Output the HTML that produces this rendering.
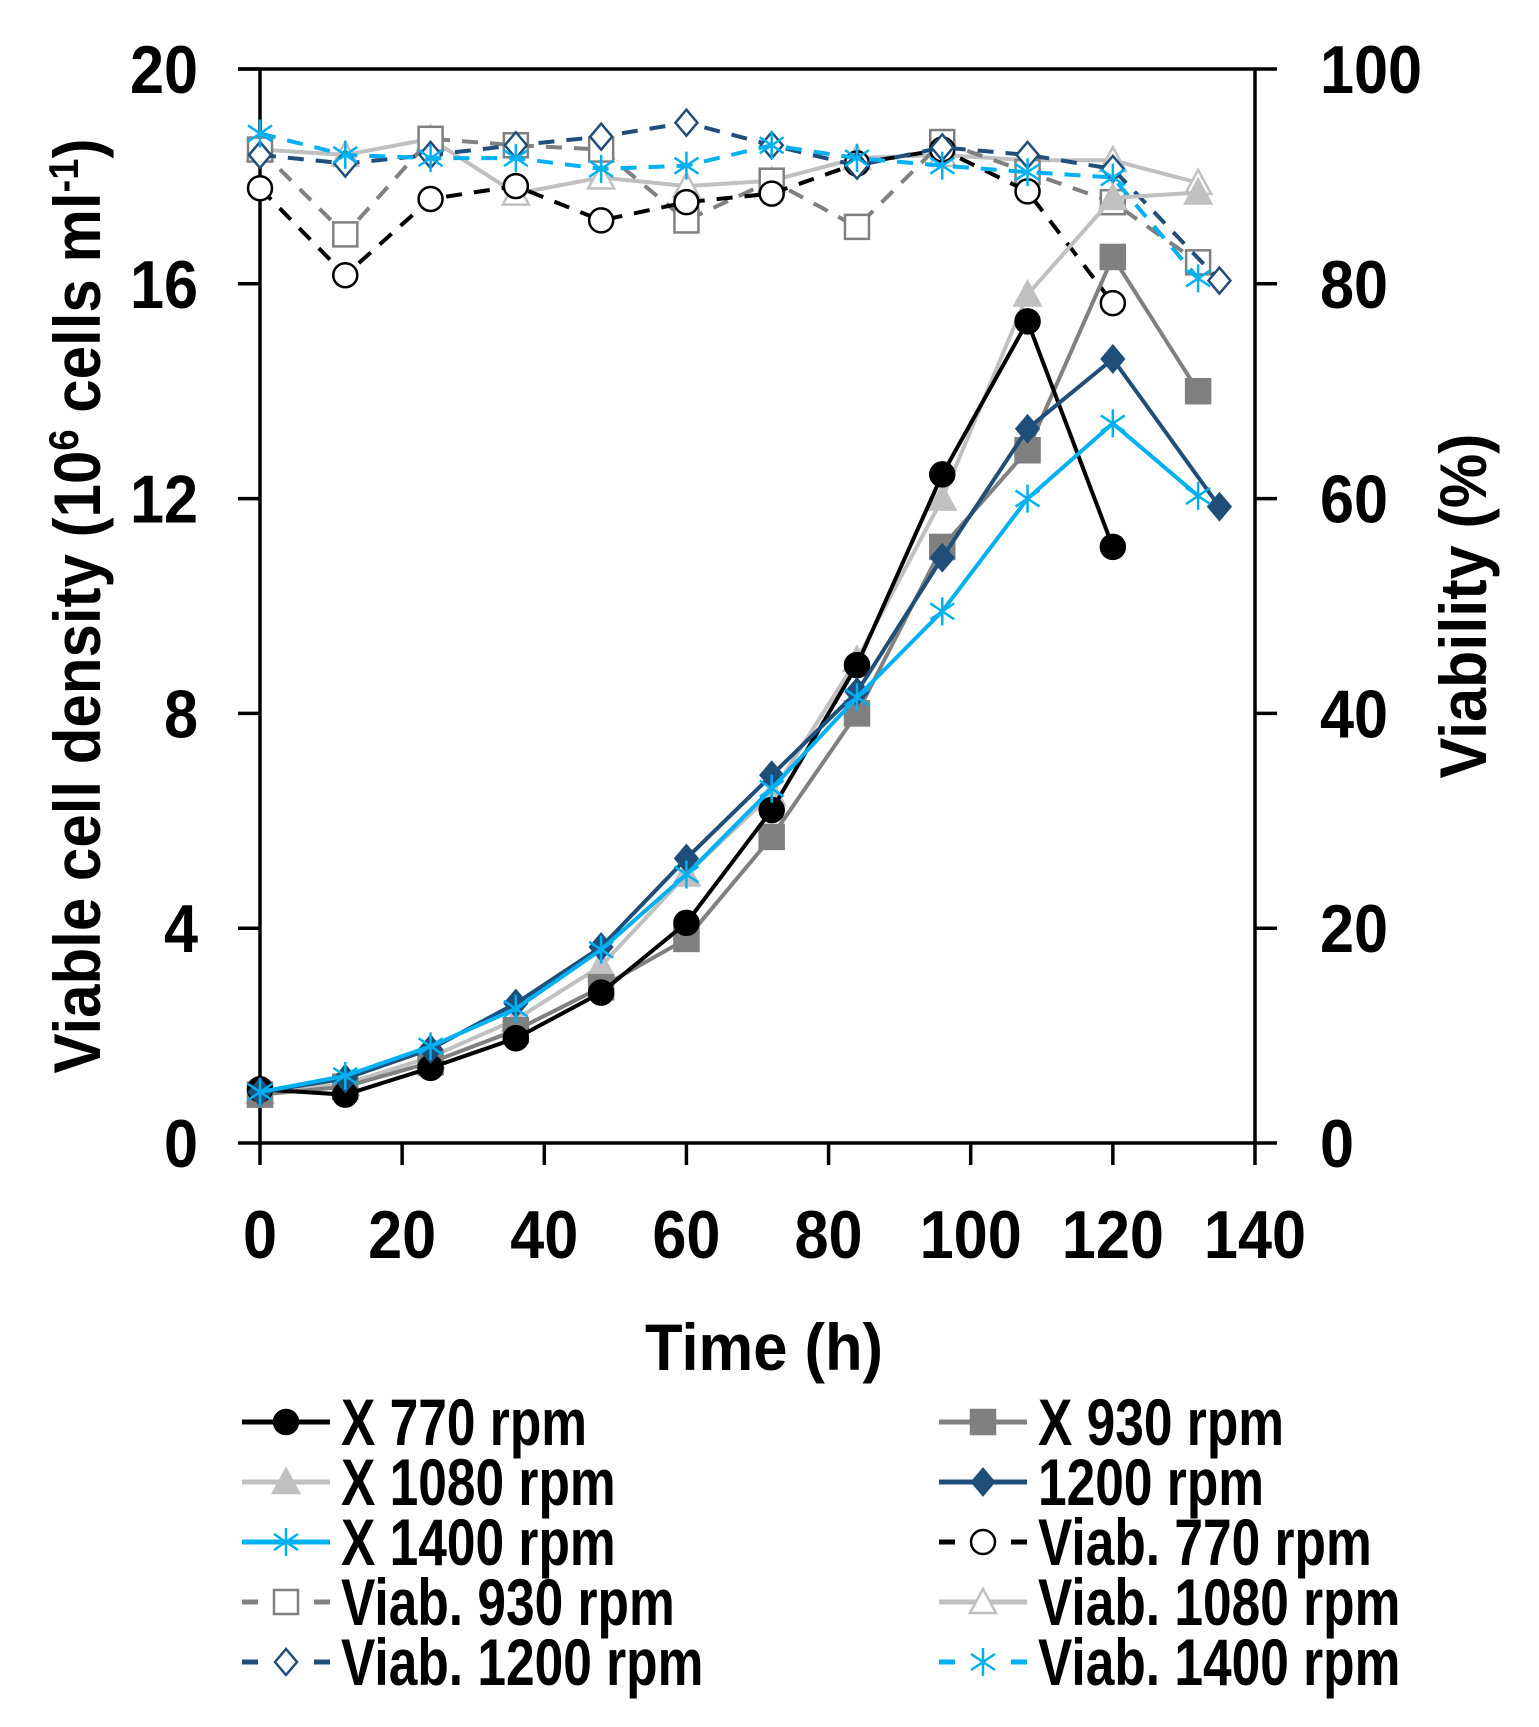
<!DOCTYPE html>
<html><head><meta charset="utf-8"><style>
html,body{margin:0;padding:0;background:#fff}
svg text{font-family:"Liberation Sans",sans-serif;font-weight:bold;fill:#000}
</style></head><body>
<svg id="s" xmlns="http://www.w3.org/2000/svg" width="1539" height="1722" viewBox="0 0 1539 1722"></svg>
<script>
const s=document.getElementById('s');let h='';
const X=t=>260+t*7.107, YL=v=>1143-v*53.7, YR=p=>1143-p*10.74;
h+=`<g stroke="#000" stroke-width="3.5" fill="none"><path d="M238 69H1255M260 69V1143H1255V69"/>`;
for(let i=0;i<=5;i++){let y=1143-i*214.8;h+=`<path d="M238 ${y}H260M1255 ${y}H1277"/>`;}
for(let i=0;i<=7;i++){let x=260+i*142.14;h+=`<path d="M${x} 1143V1165"/>`;}
h+=`</g>`;
function T_(x,y,str,fs,sx,anchor){return `<g transform="translate(${x},${y}) scale(${sx},1)"><text x="0" y="0" font-size="${fs}" text-anchor="${anchor||'start'}">${str}</text></g>`;}
for(let i=0;i<=5;i++){let y=1143-i*214.8;h+=T_(198,y+24,i*4,68,0.9,'end')+T_(1320,y+24,i*20,68,0.9);}
for(let i=0;i<=7;i++){let x=260+i*142.14;h+=T_(x,1258,i*20,68,0.9,'middle');}
h+=`<text transform="translate(100,606) rotate(-90)" font-size="66" text-anchor="middle" textLength="935" lengthAdjust="spacingAndGlyphs">Viable cell density (10<tspan dy="-22" font-size="42">6</tspan><tspan dy="22"> cells ml</tspan><tspan dy="-22" font-size="42">-1</tspan><tspan dy="22">)</tspan></text>`;
h+=`<text transform="translate(1486,606) rotate(-90)" font-size="66" text-anchor="middle" textLength="345" lengthAdjust="spacingAndGlyphs">Viability (%)</text>`;
h+=`<text x="764" y="1370" font-size="66" text-anchor="middle" textLength="238" lengthAdjust="spacingAndGlyphs">Time (h)</text>`;
const T=[0,12,24,36,48,60,72,84,96,108,120,132];
const T2=[0,12,24,36,48,60,72,84,96,108,120,135];
function mk(type,x,y,c,fill){
 const sw=2.5;
 if(type=='c')return `<circle cx="${x}" cy="${y}" r="12" fill="${fill?c:'#fff'}" stroke="${c}" stroke-width="${sw}"/>`;
 if(type=='s')return `<rect x="${x-12}" y="${y-12}" width="24" height="24" fill="${fill?c:'#fff'}" stroke="${c}" stroke-width="${sw}"/>`;
 if(type=='t')return `<path d="M${x} ${y-13}L${x+13} ${y+11}H${x-13}Z" fill="${fill?c:'#fff'}" stroke="${c}" stroke-width="${sw}"/>`;
 if(type=='d')return `<path d="M${x} ${y-13}L${x+11} ${y}L${x} ${y+13}L${x-11} ${y}Z" fill="${fill?c:'#fff'}" stroke="${c}" stroke-width="${sw}"/>`;
 if(type=='a')return `<path d="M${x} ${y-14}V${y+14}M${x-12} ${y-8}L${x+12} ${y+8}M${x-12} ${y+8}L${x+12} ${y-8}" stroke="${c}" stroke-width="2.5"/>`;
}
function series(ts,vs,f,c,type,fill,dash){
 let p=ts.slice(0,vs.length).map((t,i)=>`${X(t)},${f(vs[i])}`).join(' ');
 h+=`<polyline points="${p}" fill="none" stroke="${c}" stroke-width="4" ${dash?'stroke-dasharray="16,12"':''}/>`;
 vs.forEach((v,i)=>h+=mk(type,X(ts[i]),f(v),c,fill));
}
series(T,[92.5,92.0,93.5,88.4,89.9,89.1,89.6,91.7,92.0,91.5,91.5,89.4],YR,'#c0c0c0','t',false,false);
series(T,[92.5,84.6,93.5,92.9,92.5,85.9,89.6,85.3,93.2,90.4,87.6,82.0],YR,'#808080','s',false,true);
series(T,[88.9,80.8,87.9,89.1,85.9,87.6,88.4,91.2,92.5,88.6,78.2],YR,'#000','c',false,true);
series(T2,[92.0,91.2,92.0,92.9,93.7,95.0,92.9,91.0,92.7,92.0,90.7,80.3],YR,'#1f4e79','d',false,true);
series(T,[94.0,92.0,91.7,91.7,90.7,91.0,92.9,91.7,91.0,90.4,89.9,80.5],YR,'#00b0f0','a',false,true);
series(T,[0.95,1.1,1.6,2.3,3.3,5.0,6.5,9.0,12.0,15.8,17.6,17.7],YL,'#c0c0c0','t',true,false);
series(T,[0.9,1.05,1.5,2.1,2.9,3.8,5.7,8.0,11.1,12.9,16.5,14.0],YL,'#808080','s',true,false);
series(T,[1.0,0.9,1.4,1.95,2.8,4.1,6.2,8.9,12.45,15.3,11.1],YL,'#000','c',true,false);
series(T2,[0.95,1.2,1.75,2.6,3.65,5.3,6.85,8.4,10.9,13.3,14.6,11.85],YL,'#1f4e79','d',true,false);
series(T,[0.95,1.25,1.8,2.5,3.6,5.0,6.6,8.3,9.9,12.0,13.4,12.05],YL,'#00b0f0','a',false,false);
const L=[['X 770 rpm','#000','c',true,false],['X 930 rpm','#808080','s',true,false],
['X 1080 rpm','#c0c0c0','t',true,false],['1200 rpm','#1f4e79','d',true,false],
['X 1400 rpm','#00b0f0','a',false,false],['Viab. 770 rpm','#000','c',false,true],
['Viab. 930 rpm','#808080','s',false,true],['Viab. 1080 rpm','#c0c0c0','t',false,false],
['Viab. 1200 rpm','#1f4e79','d',false,true],['Viab. 1400 rpm','#00b0f0','a',false,true]];
L.forEach((l,i)=>{const col=i%2,row=Math.floor(i/2);const x0=col?939:242,y=1422+row*60;
 if(l[4])h+=`<path d="M${x0} ${y}H${x0+16}M${x0+72} ${y}H${x0+88}" stroke="${l[1]}" stroke-width="5"/>`;
 else h+=`<path d="M${x0} ${y}H${x0+88}" stroke="${l[1]}" stroke-width="5"/>`;
 h+=mk(l[2],x0+44,y,l[1],l[3]);
 h+=T_(x0+99,y+23,l[0],66,0.78);});
s.innerHTML=h;
</script>
</body></html>
